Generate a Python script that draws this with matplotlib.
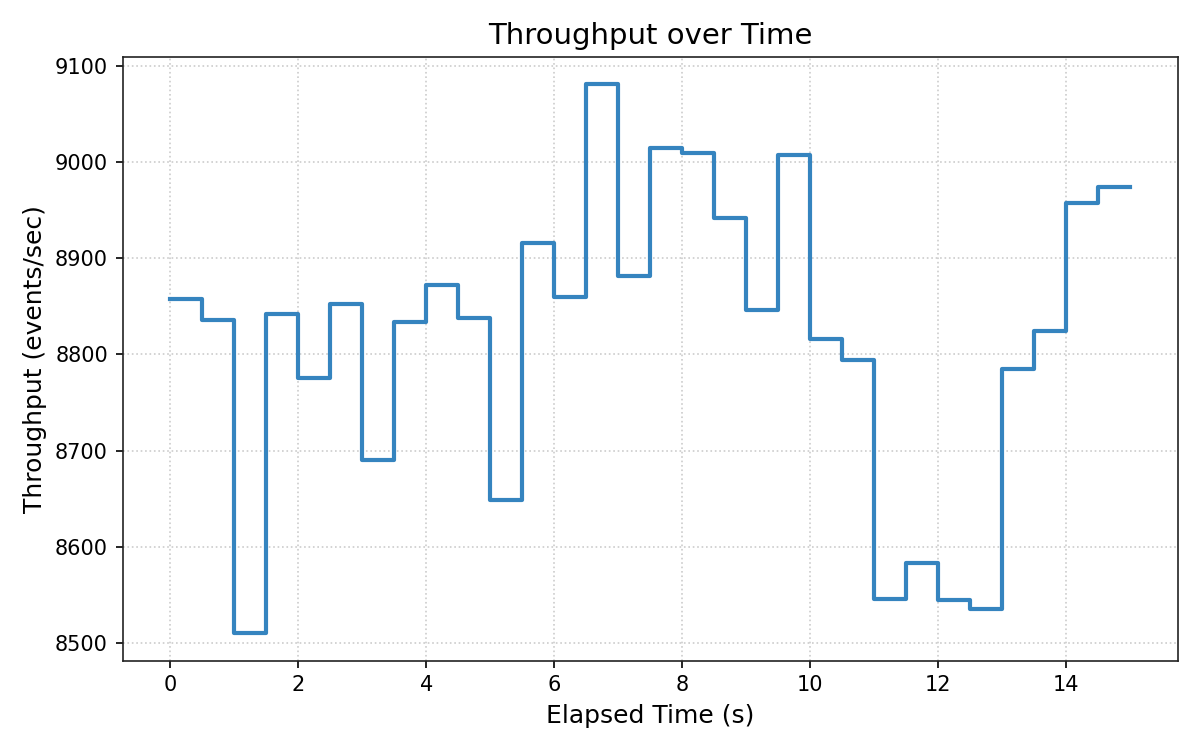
import numpy as np
import matplotlib
matplotlib.use("Agg")
import matplotlib.pyplot as plt

# elapsed time in seconds, one sample every 0.5 s
elapsed = np.arange(0, 15.5, 0.5)
throughput = [
    8858, 8836, 8510, 8842, 8776, 8852, 8690, 8834, 8872, 8838,
    8649, 8916, 8860, 9081, 8882, 9015, 9010, 8942, 8846, 9008,
    8816, 8794, 8546, 8583, 8544, 8535, 8785, 8824, 8958, 8974,
    8974,
]

fig, ax = plt.subplots(figsize=(8, 5), dpi=150)

ax.step(elapsed, throughput, where='post', color='#3584bf', linewidth=2)

ax.set_title('Throughput over Time', fontsize=14)
ax.set_xlabel('Elapsed Time (s)', fontsize=12)
ax.set_ylabel('Throughput (events/sec)', fontsize=12)
ax.grid(True, linestyle=':', color='#cccccc', linewidth=0.8)

for s in ax.spines.values():
    s.set_color('#222222')

plt.tight_layout()
plt.savefig('out.png')
